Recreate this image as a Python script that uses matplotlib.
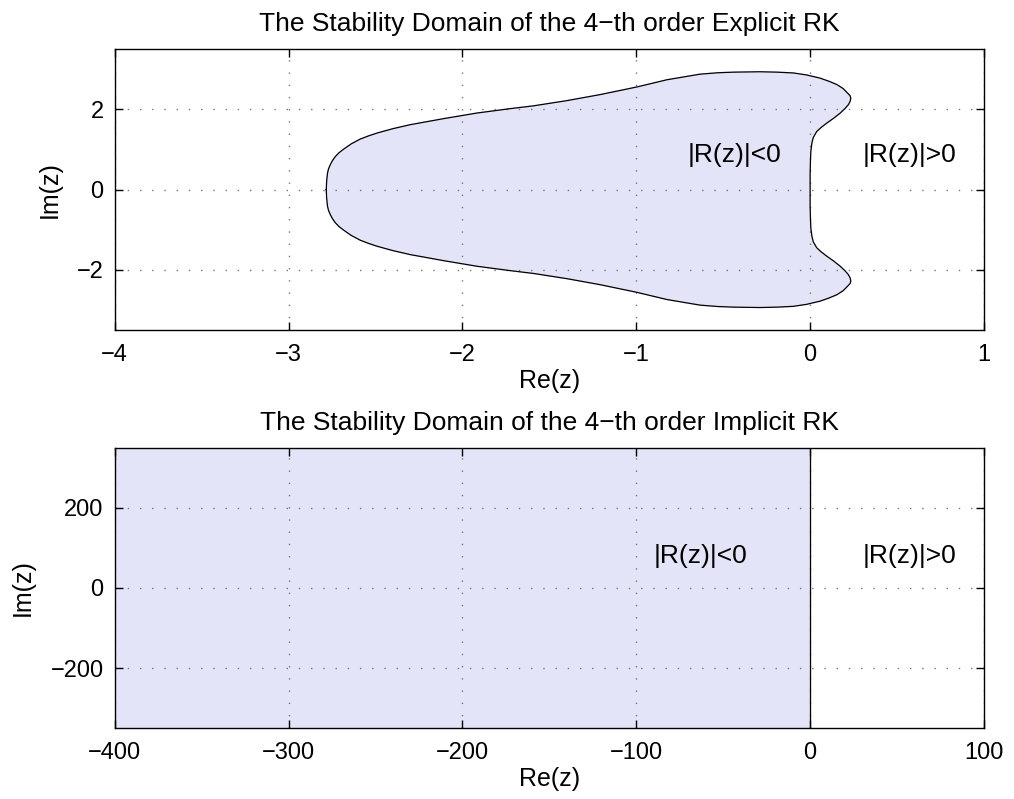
import matplotlib
matplotlib.use("Agg")
import matplotlib.pyplot as plt

plt.rcParams['font.family'] = ['Liberation Sans', 'DejaVu Sans']
plt.rcParams['font.size'] = 17

# Upper half of the explicit RK4 stability boundary, left nose -> origin
explicit_re = [-2.783, -2.781, -2.776, -2.770, -2.760, -2.748, -2.731, -2.710, -2.683,
               -2.640, -2.588, -2.540, -2.492, -2.400, -2.300, -2.109, -1.917, -1.725,
               -1.591, -1.399, -1.208, -0.997, -0.824, -0.633, -0.530, -0.441, -0.288,
               -0.190, -0.096, -0.020, 0.058, 0.110, 0.154, 0.190, 0.215, 0.230, 0.234,
               0.230, 0.220, 0.200, 0.173, 0.135, 0.096, 0.063, 0.038, 0.018, 0.010,
               0.004, 0.002, 0.000, 0.000]
explicit_im = [0.0, 0.20, 0.41, 0.52, 0.62, 0.72, 0.825, 0.92, 1.01,
               1.14, 1.26, 1.34, 1.41, 1.52, 1.62, 1.77, 1.91, 2.02,
               2.09, 2.22, 2.37, 2.56, 2.74, 2.88, 2.915, 2.93, 2.94,
               2.93, 2.91, 2.86, 2.78, 2.70, 2.62, 2.52, 2.41, 2.34, 2.28,
               2.20, 2.12, 2.02, 1.91, 1.78, 1.66, 1.55, 1.45, 1.30, 1.16,
               0.95, 0.74, 0.40, 0.0]

# Implicit RK stability region: left half-plane (boundary on Re(z)=0)
implicit_re = [-400, 0, 0, -400]
implicit_im = [-350, -350, 350, 350]
implicit_boundary_re = [0, 0]
implicit_boundary_im = [-350, 350]

titles = ["The Stability Domain of the 4\u2212th order Explicit RK",
          "The Stability Domain of the 4\u2212th order Implicit RK"]
label_in = "|R(z)|<0"
label_out = "|R(z)|>0"

fill_color = '#E4E4F8'

fig = plt.figure(figsize=(10.14, 7.99), dpi=100)
ax1 = fig.add_axes([0.1131, 0.587, 0.8573, 0.3513])
ax2 = fig.add_axes([0.1131, 0.0885, 0.8573, 0.3512])

# closed contour: upper half then mirrored lower half
xs = explicit_re + explicit_re[::-1]
ys = explicit_im + [-v for v in explicit_im[::-1]]
ax1.fill(xs, ys, color=fill_color, zorder=1)
ax1.plot(xs, ys, color='black', lw=0.9, zorder=3, solid_joinstyle='round')
ax1.set_xlim(-4, 1)
ax1.set_ylim(-3.5, 3.5)
ax1.set_xticks([-4, -3, -2, -1, 0, 1])
ax1.set_xticklabels(['\u22124', '\u22123', '\u22122', '\u22121', '0', '1'])
ax1.set_yticks([-2, 0, 2])
ax1.set_yticklabels(['\u22122', '0', '2'])
ax1.text(-0.433, 0.87, label_in, ha='center', va='center', fontsize=19)
ax1.text(0.571, 0.87, label_out, ha='center', va='center', fontsize=19)
ax1.set_title(titles[0], fontsize=19, pad=13)
ax1.set_xlabel('Re(z)', labelpad=2, fontsize=18)
ax1.set_ylabel('Im(z)', labelpad=11, fontsize=18)

ax2.fill(implicit_re, implicit_im, color=fill_color, zorder=1)
ax2.plot(implicit_boundary_re, implicit_boundary_im, color='black', lw=0.9, zorder=3)
ax2.set_xlim(-400, 100)
ax2.set_ylim(-350, 350)
ax2.set_xticks([-400, -300, -200, -100, 0, 100])
ax2.set_xticklabels(['\u2212400', '\u2212300', '\u2212200', '\u2212100', '0', '100'])
ax2.set_yticks([-200, 0, 200])
ax2.set_yticklabels(['\u2212200', '0', '200'])
ax2.text(-63, 81, label_in, ha='center', va='center', fontsize=19)
ax2.text(57.4, 81, label_out, ha='center', va='center', fontsize=19)
ax2.set_title(titles[1], fontsize=19, pad=13)
ax2.set_xlabel('Re(z)', labelpad=2, fontsize=18)
ax2.set_ylabel('Im(z)', labelpad=11, fontsize=18)

for ax in (ax1, ax2):
    ax.grid(True, linestyle=(0, (1, 7.8)), color='#777777', lw=1.0)
    ax.set_axisbelow(False)
    ax.tick_params(direction='in', top=True, right=True, length=6, width=1.0)
    ax.tick_params(axis='x', pad=10)
    ax.tick_params(axis='y', pad=8)
    for s in ax.spines.values():
        s.set_linewidth(1.0)
        s.set_zorder(5)

fig.savefig('out.png', dpi=100)
